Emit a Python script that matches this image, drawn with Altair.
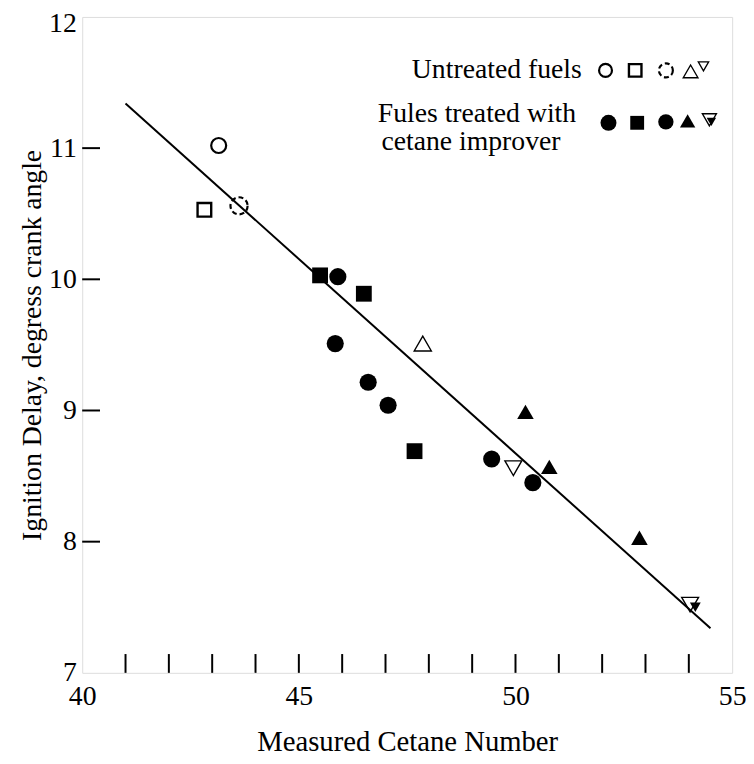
import altair as alt
import pandas as pd

# ---------------- data ----------------
open_circle_x = [43.15]
open_circle_y = [11.02]
open_square_x = [42.82]
open_square_y = [10.53]
dashed_circle_x = [43.62]
dashed_circle_y = [10.56]
open_tri_up_x = [47.86]
open_tri_up_y = [9.51]
open_tri_down_x = [49.95, 54.03]
open_tri_down_y = [8.56, 7.52]

filled_square_x = [45.49, 46.50, 47.67]
filled_square_y = [10.03, 9.89, 8.69]
filled_circle_x = [45.90, 45.84, 46.60, 47.06, 49.45, 50.40]
filled_circle_y = [10.02, 9.51, 9.215, 9.04, 8.63, 8.45]
filled_tri_up_x = [50.23, 50.78, 52.86]
filled_tri_up_y = [8.99, 8.57, 8.03]
filled_tri_down_x = [54.15]
filled_tri_down_y = [7.50]

fit_line_x = [41.0, 54.5]
fit_line_y = [11.34, 7.34]

x_tick_values = list(range(41, 55))
y_tick_values = [8, 9, 10, 11]
x_label_values = [40, 45, 50, 55]
y_label_values = [7, 8, 9, 10, 11, 12]

legend_line1 = ["Untreated fuels"]
legend_line2 = ["Fules treated with"]
legend_line3 = ["cetane improver"]

# ---------------- chart ----------------
W, H = 657, 663
FONT = "Liberation Serif"
FS = 28

xs = alt.Scale(domain=[40, 55], nice=False, zero=False)
ys = alt.Scale(domain=[7, 12], nice=False, zero=False)

x_axis = alt.Axis(values=x_label_values, ticks=False, domain=False, grid=False,
                  labelFont=FONT, labelFontSize=FS, labelColor="black",
                  labelPadding=10, labelFlush=False, labelOverlap=False, format="d",
                  title="Measured Cetane Number", titleFont=FONT, titleFontSize=29,
                  titleFontWeight="normal", titleColor="black", titlePadding=17)
y_axis = alt.Axis(values=y_label_values, ticks=False, domain=False, grid=False,
                  labelFont=FONT, labelFontSize=FS, labelColor="black",
                  labelPadding=6, labelFlush=False, labelOverlap=False, format="d",
                  labelOffset=alt.expr("datum.value == 12 ? 7 : 0"),
                  title="Ignition Delay, degress crank angle", titleFont=FONT,
                  titleFontSize=FS, titleFontWeight="normal", titleColor="black",
                  titleX=-50, titleY=H / 2, titleAngle=-90, titleAlign="center",
                  titleBaseline="middle")

X = alt.X("x:Q", scale=xs, axis=x_axis)
Y = alt.Y("y:Q", scale=ys, axis=y_axis)


def df(xv, yv):
    return pd.DataFrame({"x": xv, "y": yv})


def pts(xv, yv, **kw):
    return alt.Chart(df(xv, yv)).mark_point(opacity=1, color="black", **kw).encode(x=X, y=Y)


layers = []

# fitted line
layers.append(alt.Chart(df(fit_line_x, fit_line_y)).mark_line(color="black", strokeWidth=2)
              .encode(x=X, y=Y))

# inward ticks
layers.append(alt.Chart(pd.DataFrame({"x": x_tick_values})).mark_rule(color="black", strokeWidth=2)
              .encode(x=X, y=alt.value(H), y2=alt.value(H - 19)))
layers.append(alt.Chart(pd.DataFrame({"y": y_tick_values})).mark_rule(color="black", strokeWidth=2)
              .encode(y=Y, x=alt.value(0), x2=alt.value(18)))

# untreated (open) markers
layers.append(pts(open_circle_x, open_circle_y, shape="circle", filled=False, size=230, strokeWidth=2.2))
layers.append(pts(open_square_x, open_square_y, shape="square", filled=False, size=190, strokeWidth=2.4))
layers.append(pts(dashed_circle_x, dashed_circle_y, shape="circle", filled=False, size=300,
                  strokeWidth=2.2, strokeDash=[5, 3]))
layers.append(pts(open_tri_up_x, open_tri_up_y, shape="triangle-up", filled=False, size=300, strokeWidth=1.4))
layers.append(pts(open_tri_down_x, open_tri_down_y, shape="triangle-down", filled=False, size=290,
                  strokeWidth=1.4))

# treated (filled) markers
layers.append(pts(filled_square_x, filled_square_y, shape="square", filled=True, size=256))
layers.append(pts(filled_circle_x, filled_circle_y, shape="circle", filled=True, size=300))
layers.append(pts(filled_tri_up_x, filled_tri_up_y, shape="triangle-up", filled=True, size=280))
layers.append(pts(filled_tri_down_x, filled_tri_down_y, shape="triangle-down", filled=True, size=120))


# legend text
def legend_text(lines, px, py, align):
    return alt.Chart(pd.DataFrame({"t": lines})).mark_text(
        font=FONT, fontSize=FS, color="black", align=align, baseline="alphabetic"
    ).encode(x=alt.value(px), y=alt.value(py), text="t:N")


layers.append(legend_text(legend_line1, 505, 62, "right"))
layers.append(legend_text(legend_line2, 399, 106, "center"))
layers.append(legend_text(legend_line3, 393, 134, "center"))

# legend markers
one = pd.DataFrame({"k": [0]})


def lmark(px, py, **kw):
    return alt.Chart(one).mark_point(opacity=1, color="black", **kw).encode(
        x=alt.value(px), y=alt.value(py))


layers += [
    lmark(529, 54, shape="circle", filled=False, size=170, strokeWidth=2.2),
    lmark(559, 54, shape="square", filled=False, size=160, strokeWidth=2.4),
    lmark(590, 54, shape="circle", filled=False, size=200, strokeWidth=2.2, strokeDash=[5, 3]),
    lmark(615, 55, shape="triangle-up", filled=False, size=220, strokeWidth=1.4),
    lmark(628, 50, shape="triangle-down", filled=False, size=110, strokeWidth=1.3),
    lmark(532, 107, shape="circle", filled=True, size=260),
    lmark(561, 107, shape="square", filled=True, size=196),
    lmark(590, 106, shape="circle", filled=True, size=240),
    lmark(612, 105, shape="triangle-up", filled=True, size=240),
    lmark(634, 104, shape="triangle-down", filled=False, size=200, strokeWidth=1.4),
    lmark(636, 106, shape="triangle-down", filled=True, size=90),
]

chart = alt.layer(*layers).properties(
    width=W, height=H,
    autosize=alt.AutoSizeParams(type="none"),
    padding={"left": 75, "top": 5, "right": 14, "bottom": 80},
).configure_view(stroke="black", strokeWidth=2).configure(background="white")

chart.save("out.html", embed_options={"renderer": "svg", "actions": False})
